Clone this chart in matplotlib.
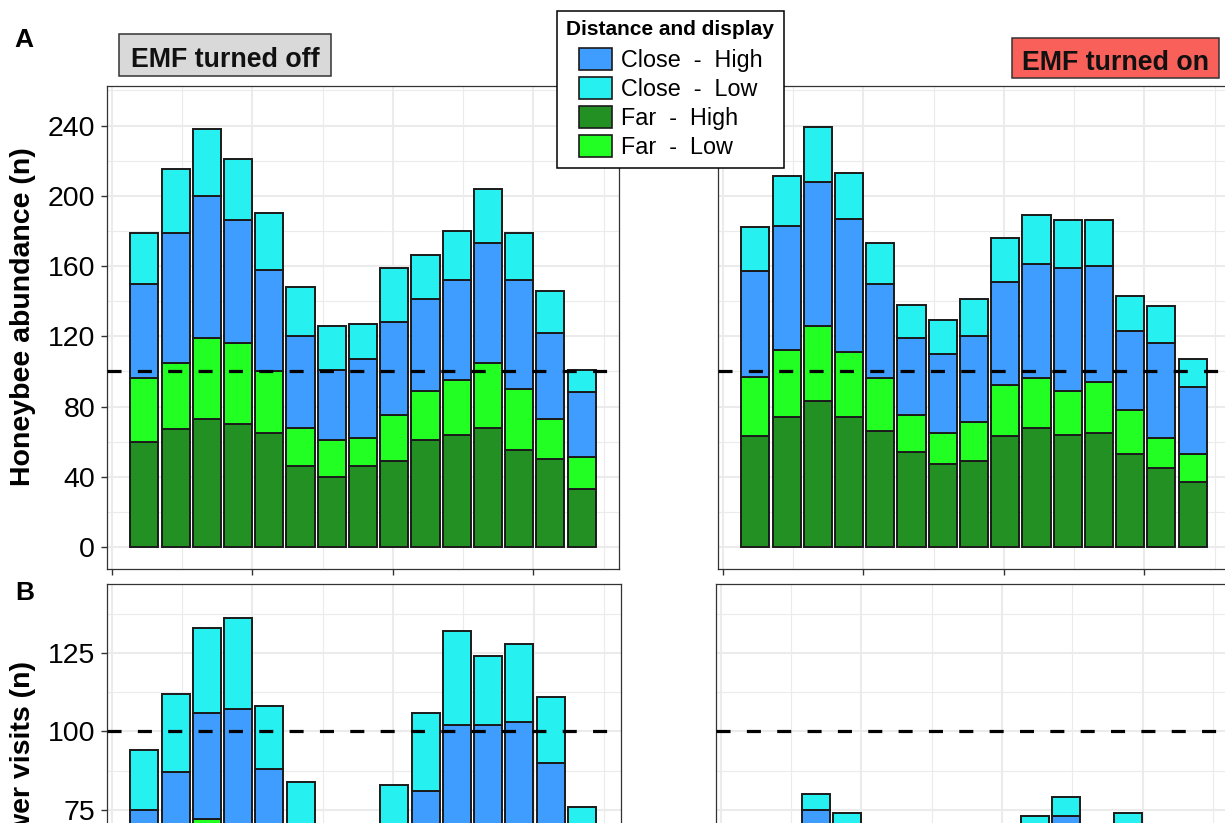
import numpy as np
import matplotlib
matplotlib.use("Agg")
import matplotlib.pyplot as plt
from matplotlib.patches import Patch, Rectangle
from matplotlib.legend_handler import HandlerPatch
from matplotlib.font_manager import FontProperties

# ---------------- data ----------------
days = list(range(15))  # 15 sampling days per treatment

# Panel A: honeybee abundance (n) - EMF turned off
a_off_far_high   = [60, 67, 73, 70, 65, 46, 40, 46, 49, 61, 64, 68, 55, 50, 33]
a_off_far_low    = [36, 38, 46, 46, 35, 22, 21, 16, 26, 28, 31, 37, 35, 23, 18]
a_off_close_high = [54, 74, 81, 70, 58, 52, 40, 45, 53, 52, 57, 68, 62, 49, 37]
a_off_close_low  = [29, 36, 38, 35, 32, 28, 25, 20, 31, 25, 28, 31, 27, 24, 13]
# Panel A: EMF turned on
a_on_far_high   = [63, 74, 83, 74, 66, 54, 47, 49, 63, 68, 64, 65, 53, 45, 37]
a_on_far_low    = [34, 38, 43, 37, 30, 21, 18, 22, 29, 28, 25, 29, 25, 17, 16]
a_on_close_high = [60, 71, 82, 76, 54, 44, 45, 49, 59, 65, 70, 66, 45, 54, 38]
a_on_close_low  = [25, 28, 31, 26, 23, 19, 19, 21, 25, 28, 27, 26, 20, 21, 16]

# Panel B: flower visits (n) - EMF turned off
b_off_far_high   = [35, 40, 45, 44, 38, 30, 25, 26, 30, 35, 42, 40, 41, 36, 25]
b_off_far_low    = [20, 22, 27, 24, 22, 18, 15, 15, 18, 22, 25, 24, 25, 22, 15]
b_off_close_high = [20, 25, 34, 39, 28, 17, 12, 13, 14, 24, 35, 38, 37, 32, 18]
b_off_close_low  = [19, 25, 27, 29, 20, 19, 12, 12, 21, 25, 30, 22, 25, 21, 18]
# Panel B: EMF turned on
b_on_far_high   = [28, 30, 38, 34, 29, 24, 21, 22, 28, 33, 35, 31, 33, 27, 21]
b_on_far_low    = [14, 15, 18, 16, 14, 11, 10, 11, 14, 16, 17, 15, 16, 13, 10]
b_on_close_high = [10, 11, 19, 15, 11, 8, 7, 8, 10, 13, 21, 12, 14, 10, 7]
b_on_close_low  = [8, 9, 5, 9, 8, 7, 7, 7, 8, 11, 6, 10, 11, 8, 7]

legend_labels = ["Close  -  High", "Close  -  Low", "Far  -  High", "Far  -  Low"]
legend_title = "Distance and display"
reference_level = 100

a_yticks = [0, 40, 80, 120, 160, 200, 240]
a_yminor = [20, 60, 100, 140, 180, 220, 260]
b_yticks = [0, 25, 50, 75, 100, 125]
b_yminor = [12.5, 37.5, 62.5, 87.5, 112.5, 137.5]
x_major = [-1.045, 3.455, 7.955, 12.455]
x_minor = [1.205, 5.705, 10.205, 14.705]

# ---------------- style ----------------
col = {"Close  -  High": "#3F9DFF", "Close  -  Low": "#26F0F0",
       "Far  -  High": "#239023", "Far  -  Low": "#22FF22"}
stack_order = ["Far  -  High", "Far  -  Low", "Close  -  High", "Close  -  Low"]

W, H = 1225, 823
fig = plt.figure(figsize=(W / 100, H / 100), dpi=100)
fig.patch.set_facecolor("white")


def fx(px):
    return px / W


def fy(py):
    return 1 - py / H


tick_font = FontProperties(family="Liberation Sans", size=20.5)
bold_font = dict(family="Liberation Sans", weight="bold")


def draw_panel(ax, stacks, ylim, ymaj, ymin, xlim, show_y):
    ax.set_xlim(xlim)
    ax.set_ylim(ylim)
    ax.set_xticks(x_major)
    ax.set_xticks(x_minor, minor=True)
    ax.set_yticks(ymaj)
    ax.set_yticks(ymin, minor=True)
    ax.grid(True, which="major", color="#EBEBEB", lw=1.5)
    ax.grid(True, which="minor", color="#EBEBEB", lw=0.8)
    ax.set_axisbelow(True)
    bottom = np.zeros(len(days))
    for name in stack_order:
        vals = np.array(stacks[name], dtype=float)
        ax.bar(days, vals, width=0.9, bottom=bottom, color=col[name],
               edgecolor="#1a1a1a", linewidth=1.4, zorder=2)
        bottom += vals
    ax.axhline(reference_level, color="black", lw=2.3, ls=(0, (4.4, 5.1)), zorder=5)
    ax.tick_params(which="minor", length=0)
    ax.tick_params(axis="x", which="major", length=4.5, width=1.0,
                   color="#333333", labelbottom=False)
    if show_y:
        ax.tick_params(axis="y", which="major", length=4.5, width=1.0,
                       color="#333333", pad=4)
        for lab in ax.get_yticklabels():
            lab.set_fontproperties(tick_font)
    else:
        ax.tick_params(axis="y", which="major", left=False, labelleft=False)
    for s in ax.spines.values():
        s.set_color("#333333")
        s.set_linewidth(0.9)


hA = 483 / H
axA_off = fig.add_axes([fx(107), fy(569), 512 / W, hA])
axA_on = fig.add_axes([fx(718), fy(569), 512 / W, hA])
axB_off = fig.add_axes([fx(107), fy(1067), 514 / W, hA])
axB_on = fig.add_axes([fx(716), fy(1067), 514 / W, hA])

xlimA = (-1.195, 15.195)
xlimB = (-1.195, 15.253)

draw_panel(axA_off, {"Far  -  High": a_off_far_high, "Far  -  Low": a_off_far_low,
                     "Close  -  High": a_off_close_high, "Close  -  Low": a_off_close_low},
           (-12.5, 262.5), a_yticks, a_yminor, xlimA, True)
draw_panel(axA_on, {"Far  -  High": a_on_far_high, "Far  -  Low": a_on_far_low,
                    "Close  -  High": a_on_close_high, "Close  -  Low": a_on_close_low},
           (-12.5, 262.5), a_yticks, a_yminor, xlimA, False)
draw_panel(axB_off, {"Far  -  High": b_off_far_high, "Far  -  Low": b_off_far_low,
                     "Close  -  High": b_off_close_high, "Close  -  Low": b_off_close_low},
           (-7, 147), b_yticks, b_yminor, xlimB, True)
draw_panel(axB_on, {"Far  -  High": b_on_far_high, "Far  -  Low": b_on_far_low,
                    "Close  -  High": b_on_close_high, "Close  -  Low": b_on_close_low},
           (-7, 147), b_yticks, b_yminor, xlimB, False)

# ---------------- strip labels ----------------
def strip(x0, x1, y0, y1, baseline, text, fc):
    fig.patches.append(Rectangle((fx(x0), fy(y1)), (x1 - x0) / W, (y1 - y0) / H,
                                 transform=fig.transFigure, facecolor=fc,
                                 edgecolor="#333333", lw=1.1, zorder=3))
    fig.text(fx((x0 + x1) / 2), fy(baseline), text, ha="center", va="baseline",
             fontsize=19.3, color="#111111", zorder=4, **bold_font)


strip(119, 331, 34, 76, 67, "EMF turned off", "#D9D9D9")
strip(1012, 1219, 38, 78, 70, "EMF turned on", "#F9605A")

# ---------------- panel tags and axis labels ----------------
fig.text(fx(14), fy(47), "A", ha="left", va="baseline", fontsize=19, **bold_font)
fig.text(fx(15), fy(600), "B", ha="left", va="baseline", fontsize=19, **bold_font)
fig.text(fx(23), fy(317), "Honeybee abundance (n)", rotation=90, ha="center",
         va="center", fontsize=20.5, **bold_font)
fig.text(fx(23), fy(661), "Honeybee flower visits (n)", rotation=90, ha="center",
         va="top", fontsize=20.5, **bold_font)

# ---------------- legend ----------------
class IndentPatch(HandlerPatch):
    def create_artists(self, legend, orig_handle, xdescent, ydescent, width,
                       height, fontsize, trans):
        off = 9
        p = Rectangle((-xdescent + off, -ydescent), width - off, height,
                      facecolor=orig_handle.get_facecolor(),
                      edgecolor="#1a1a1a", lw=1.2, transform=trans)
        return [p]


handles = [Patch(facecolor=col[n], edgecolor="#1a1a1a") for n in legend_labels]
leg = fig.legend(handles, legend_labels, loc="upper left",
                 bbox_to_anchor=(fx(557), fy(11)), borderaxespad=0,
                 title=legend_title,
                 prop=FontProperties(family="Liberation Sans", size=16.8),
                 title_fontproperties=FontProperties(
                     family="Liberation Sans", weight="bold", size=15.0),
                 frameon=True, fancybox=False, edgecolor="black", framealpha=1,
                 borderpad=0.4, handlelength=1.95, handleheight=1.08,
                 handletextpad=0.4, labelspacing=0.22, alignment="left",
                 handler_map={Patch: IndentPatch()})
leg._legend_box.sep = 0.22 * 16.8 + 2.3  # a little more room under the title
leg.get_frame().set_linewidth(1.1)
leg.set_zorder(10)

fig.savefig("out.png", dpi=100)
